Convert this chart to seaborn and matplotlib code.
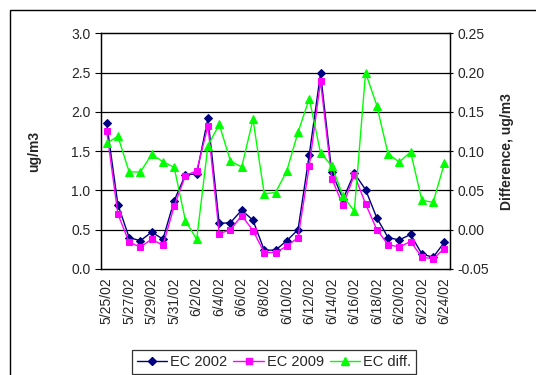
import matplotlib
matplotlib.use("Agg")
import matplotlib.pyplot as plt
from matplotlib.patches import Rectangle
from matplotlib.lines import Line2D
import seaborn as sns
import pandas as pd
import numpy as np

dates = ["5/25/02", "5/26/02", "5/27/02", "5/28/02", "5/29/02", "5/30/02", "5/31/02",
         "6/1/02", "6/2/02", "6/3/02", "6/4/02", "6/5/02", "6/6/02", "6/7/02", "6/8/02",
         "6/9/02", "6/10/02", "6/11/02", "6/12/02", "6/13/02", "6/14/02", "6/15/02",
         "6/16/02", "6/17/02", "6/18/02", "6/19/02", "6/20/02", "6/21/02", "6/22/02",
         "6/23/02", "6/24/02"]
ec2002 = [1.86, 0.82, 0.40, 0.36, 0.47, 0.38, 0.87, 1.20, 1.21, 1.92, 0.58, 0.59, 0.75,
          0.62, 0.24, 0.24, 0.36, 0.50, 1.455, 2.49, 1.23, 0.89, 1.22, 1.01, 0.65, 0.40,
          0.37, 0.44, 0.19, 0.15, 0.34]
ec2009 = [1.76, 0.70, 0.34, 0.28, 0.38, 0.30, 0.80, 1.19, 1.25, 1.82, 0.45, 0.50, 0.68,
          0.49, 0.21, 0.21, 0.29, 0.40, 1.31, 2.39, 1.15, 0.81, 1.20, 0.83, 0.50, 0.31,
          0.28, 0.35, 0.15, 0.13, 0.26]
ecdiff = [0.110, 0.119, 0.0735, 0.0735, 0.096, 0.0866, 0.0794, 0.0115, -0.0122, 0.107,
          0.134, 0.0875, 0.0798, 0.1405, 0.0459, 0.0472, 0.0748, 0.124, 0.167, 0.0977,
          0.0816, 0.0425, 0.0238, 0.200, 0.158, 0.0964, 0.0862, 0.099, 0.0374, 0.0349,
          0.0845]

df = pd.DataFrame({"idx": np.arange(len(dates)), "date": dates,
                   "EC 2002": ec2002, "EC 2009": ec2009, "EC diff.": ecdiff})

sns.set_style("white")
plt.rcParams["font.family"] = ["Liberation Sans", "DejaVu Sans"]

fig = plt.figure(figsize=(5.36, 3.75), dpi=100)
ax = fig.add_axes([101/536, 1-269/375, (450-101)/536, (269-33.3)/375])
ax2 = ax.twinx()

navy = "#000080"
mag = "#FF00FF"
grn = "#00FF00"

for y in [0.5, 1.0, 1.5, 2.0, 2.5]:
    ax.axhline(y, color="black", lw=0.9, zorder=0)

sns.lineplot(data=df, x="idx", y="EC 2002", ax=ax, color=navy, marker="D",
             markersize=4.5, markeredgecolor=navy, lw=1.0, zorder=3)
sns.lineplot(data=df, x="idx", y="EC 2009", ax=ax, color=mag, marker="s",
             markersize=5, markeredgecolor=mag, lw=1.0, zorder=4)
sns.lineplot(data=df, x="idx", y="EC diff.", ax=ax2, color=grn, marker="^",
             markersize=6, markeredgecolor=grn, lw=1.0, zorder=3)

ax.set_xlim(-0.5, len(dates) - 0.5)
ax.set_ylim(0, 3.0)
ax2.set_ylim(-0.05, 0.25)
ax.set_yticks(np.arange(0, 3.01, 0.5))
ax.set_yticklabels([f"{v:.1f}" for v in np.arange(0, 3.01, 0.5)], fontsize=10)
ax2.set_yticks(np.arange(-0.05, 0.2501, 0.05))
ax2.set_yticklabels([f"{v:.2f}" for v in np.arange(-0.05, 0.2501, 0.05)], fontsize=10)

major = list(range(0, len(dates), 2))
ax.set_xticks(major)
ax.set_xticklabels([dates[i] for i in major], rotation=90, fontsize=10)
ax.set_xticks(np.arange(-0.5, len(dates), 2), minor=True)
ax.tick_params(axis="x", which="major", length=0, pad=6)
ax.tick_params(axis="x", which="minor", length=4, direction="out", color="black", width=0.8)
ax.tick_params(axis="y", length=4, direction="out", color="black", width=0.8, left=True)
ax2.tick_params(axis="y", length=4, direction="inout", color="black", width=0.8, right=True)

ax.set_xlabel("")
ax.set_ylabel("ug/m3", fontsize=10, fontweight="bold", labelpad=22)
ax2.set_ylabel("Difference, ug/m3", fontsize=10, fontweight="bold", labelpad=8)

for a in (ax, ax2):
    for s in a.spines.values():
        s.set_color("black")
        s.set_linewidth(0.9)
        s.set_visible(True)

handles = [
    Line2D([], [], color=navy, marker="D", markersize=4.5, lw=1.0),
    Line2D([], [], color=mag, marker="s", markersize=5, lw=1.0),
    Line2D([], [], color=grn, marker="^", markersize=6, lw=1.0),
]
leg = fig.legend(handles, ["EC 2002", "EC 2009", "EC diff."], loc="upper center",
                 bbox_to_anchor=(274/536, 1-350/375), ncol=3, fontsize=10.5,
                 frameon=True, fancybox=False, edgecolor="black", handlelength=2.1,
                 handletextpad=0.2, columnspacing=0.4, borderpad=0.35, borderaxespad=0)
leg.get_frame().set_linewidth(0.9)

fig.patches.append(Rectangle((10/536, -0.5), 2, 0.5 + 1 - 10/375, transform=fig.transFigure,
                             fill=False, edgecolor="black", lw=1.0, clip_on=False))

fig.savefig("out.png", dpi=100)
